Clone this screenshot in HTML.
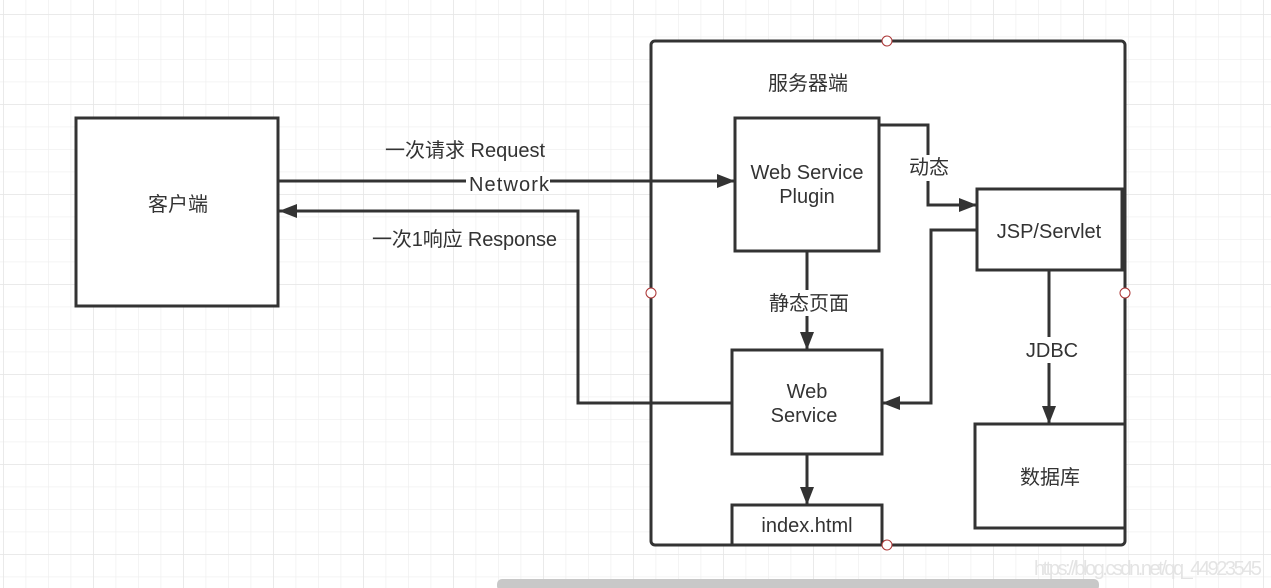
<!DOCTYPE html>
<html><head><meta charset="utf-8"><style>
html,body{margin:0;padding:0;background:#fff;}
svg{display:block;}
text{font-family:"Liberation Sans","Noto Sans CJK SC",sans-serif;fill:#333;font-size:20px;}
</style></head><body>
<svg width="1271" height="588" viewBox="0 0 1271 588" xmlns="http://www.w3.org/2000/svg">
<defs>
<pattern id="g" x="3" y="14" width="22.5" height="22.5" patternUnits="userSpaceOnUse">
<path d="M0 0H22.5M0 0V22.5" stroke="#f0f0f0" stroke-width="1.5" fill="none"/>
</pattern>
<pattern id="G" x="3" y="14" width="90" height="90" patternUnits="userSpaceOnUse">
<path d="M0 0H90M0 0V90" stroke="#e6e6e6" stroke-width="1.5" fill="none"/>
</pattern>
<marker id="a" markerWidth="20" markerHeight="16" refX="18" refY="7" orient="auto" markerUnits="userSpaceOnUse">
<path d="M0 0L18 7L0 14z" fill="#333"/>
</marker>
</defs>
<rect width="1271" height="588" fill="url(#g)"/>
<rect width="1271" height="588" fill="url(#G)"/>
<g stroke="#333" stroke-width="3" fill="#fff">
<rect x="651" y="41" width="474" height="504" rx="4"/>
<rect x="76" y="118" width="202" height="188"/>
<rect x="735" y="118" width="144" height="133"/>
<rect x="977" y="189" width="145" height="81"/>
<rect x="732" y="350" width="150" height="104"/>
<rect x="975" y="424" width="150" height="104"/>
<rect x="732" y="505" width="150" height="40"/>
</g>
<g stroke="#333" stroke-width="3" fill="none">
<path d="M278 181H735" marker-end="url(#a)"/>
<path d="M732 403H578V211H279" marker-end="url(#a)"/>
<path d="M879 125H928V205H977" marker-end="url(#a)"/>
<path d="M977 230H931V403H882" marker-end="url(#a)"/>
<path d="M807 251V350" marker-end="url(#a)"/>
<path d="M1049 270V424" marker-end="url(#a)"/>
<path d="M807 454V505" marker-end="url(#a)"/>
</g>
<g fill="#fff" stroke="#a33" stroke-width="1">
<circle cx="887" cy="41" r="5"/><circle cx="651" cy="293" r="5"/><circle cx="1125" cy="293" r="5"/><circle cx="887" cy="545" r="5"/>
</g>
<rect x="466" y="172" width="84" height="22" fill="#fff"/>
<rect x="757" y="290" width="100" height="26" fill="#fff"/>
<rect x="1022" y="337" width="56" height="26" fill="#fff"/>
<rect x="902" y="155" width="52" height="26" fill="#fff"/>
<text x="768" y="90" font-size="19">服务器端</text>
<text x="148" y="211" font-size="19">客户端</text>
<text x="385" y="157" textLength="160">一次请求 Request</text>
<text x="469" y="191" textLength="80">Network</text>
<text x="372" y="246" textLength="185">一次1响应 Response</text>
<text x="807" y="179" text-anchor="middle">Web Service</text>
<text x="807" y="203" text-anchor="middle">Plugin</text>
<text x="909" y="174" font-size="19">动态</text>
<text x="1049" y="238" text-anchor="middle">JSP/Servlet</text>
<text x="769" y="310" font-size="19">静态页面</text>
<text x="1052" y="357" text-anchor="middle">JDBC</text>
<text x="807" y="398" text-anchor="middle">Web</text>
<text x="804" y="422" text-anchor="middle">Service</text>
<text x="1050" y="484" text-anchor="middle" font-size="19">数据库</text>
<text x="807" y="532" text-anchor="middle">index.html</text>
<text x="1034" y="575" font-size="15" textLength="228" style="fill:#e4e4e4">https://blog.csdn.net/qq_44923545</text>
<rect x="497" y="579" width="602" height="12" rx="5" fill="#c8c8c8"/>
</svg>
</body></html>
